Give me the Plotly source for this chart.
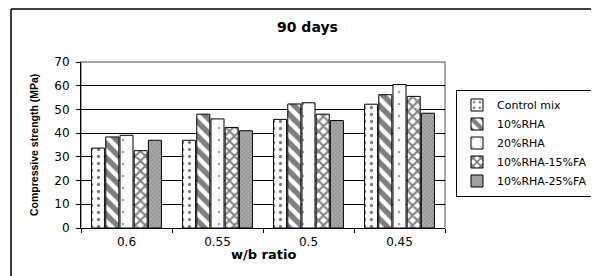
import plotly.graph_objects as go

categories = ["0.6", "0.55", "0.5", "0.45"]
series_names = ["Control mix", "10%RHA", "20%RHA", "10%RHA-15%FA", "10%RHA-25%FA"]
control_mix = [33.7, 37.0, 45.8, 52.2]
rha10 = [38.4, 48.0, 52.3, 56.2]
rha20 = [39.1, 46.0, 52.8, 60.5]
rha10_fa15 = [32.6, 42.4, 48.0, 55.5]
rha10_fa25 = [37.0, 41.0, 45.3, 48.4]
y_ticks = [0, 10, 20, 30, 40, 50, 60, 70]

W, H = 599, 276
# page offset (body margin) compensation
OFF = 8
SL, ST, SR, SB = 81, 62, 445, 228  # plot area in screen pixels
PW, PH = SR - SL, SB - ST
L, T = SL - OFF, ST - OFF
R, B = W - L - PW, H - T - PH

def px_x(sx):
    return (sx - SL) / PW

def px_y(sy):
    return (SB - sy) / PH

patterns = [
    dict(shape=".", fgcolor="black", bgcolor="white", size=7, solidity=0.18),
    dict(shape="\\", fgcolor="black", bgcolor="white", size=10, solidity=0.55),
    dict(shape=".", fgcolor="#444", bgcolor="#fbfbfb", size=12, solidity=0.03),
    dict(shape="x", fgcolor="black", bgcolor="white", size=7, solidity=0.5),
    dict(shape="x", fgcolor="#333", bgcolor="#a8a8a8", size=3, solidity=0.2),
]
values = [control_mix, rha10, rha20, rha10_fa15, rha10_fa25]

fig = go.Figure()
for name, vals, pat in zip(series_names, values, patterns):
    fig.add_trace(go.Bar(
        x=categories, y=vals, name=name,
        marker=dict(color=pat["bgcolor"], line=dict(color="black", width=1), pattern=pat),
    ))

font = "DejaVu Sans, Arial, sans-serif"
fig.update_layout(
    width=W, height=H,
    margin=dict(l=L, r=R, t=T, b=B, autoexpand=False),
    paper_bgcolor="white", plot_bgcolor="white",
    barmode="group", bargap=0.22, bargroupgap=0.08,
    font=dict(family=font, size=12, color="black"),
    showlegend=True,
    legend=dict(x=px_x(456), y=px_y(143), xanchor="left", yanchor="middle",
                bordercolor="black", borderwidth=1, bgcolor="white",
                font=dict(size=11), tracegroupgap=0, itemwidth=30),
    xaxis=dict(showline=True, linecolor="black", linewidth=1, ticks="outside",
               tickson="boundaries", ticklen=4, tickcolor="black",
               tickfont=dict(size=12), automargin=False, ticklabelstandoff=3),
    yaxis=dict(range=[0, 70], tickvals=y_ticks, showgrid=True, gridcolor="black", gridwidth=1,
               showline=True, linecolor="black", linewidth=1, ticks="outside", ticklen=4,
               tickcolor="black", tickfont=dict(size=12), automargin=False,
               ticklabelstandoff=4),
    annotations=[
        dict(text="<b>90 days</b>", xref="paper", yref="paper", x=px_x(307), y=px_y(27),
             xanchor="center", yanchor="middle", showarrow=False,
             font=dict(family=font, size=14)),
        dict(text="<b>w/b ratio</b>", xref="paper", yref="paper", x=px_x(263), y=px_y(254),
             xanchor="center", yanchor="middle", showarrow=False,
             font=dict(family=font, size=13)),
        dict(text="<b>Compressive strength (MPa)</b>", xref="paper", yref="paper",
             x=px_x(34), y=px_y(145), textangle=-90, xanchor="center", yanchor="middle",
             showarrow=False, font=dict(family="Liberation Sans, Arial, sans-serif", size=10.5)),
    ],
    shapes=[
        dict(type="rect", xref="paper", yref="paper", x0=0, x1=1, y0=0, y1=1,
             line=dict(color="#888", width=1.5), layer="below"),
        dict(type="line", xref="paper", yref="paper", x0=px_x(11), x1=px_x(610),
             y0=px_y(9), y1=px_y(9), line=dict(color="black", width=1.5)),
        dict(type="line", xref="paper", yref="paper", x0=px_x(11), x1=px_x(11),
             y0=px_y(9), y1=px_y(290), line=dict(color="black", width=1.5)),
    ],
)

fig.write_html("out.html")
